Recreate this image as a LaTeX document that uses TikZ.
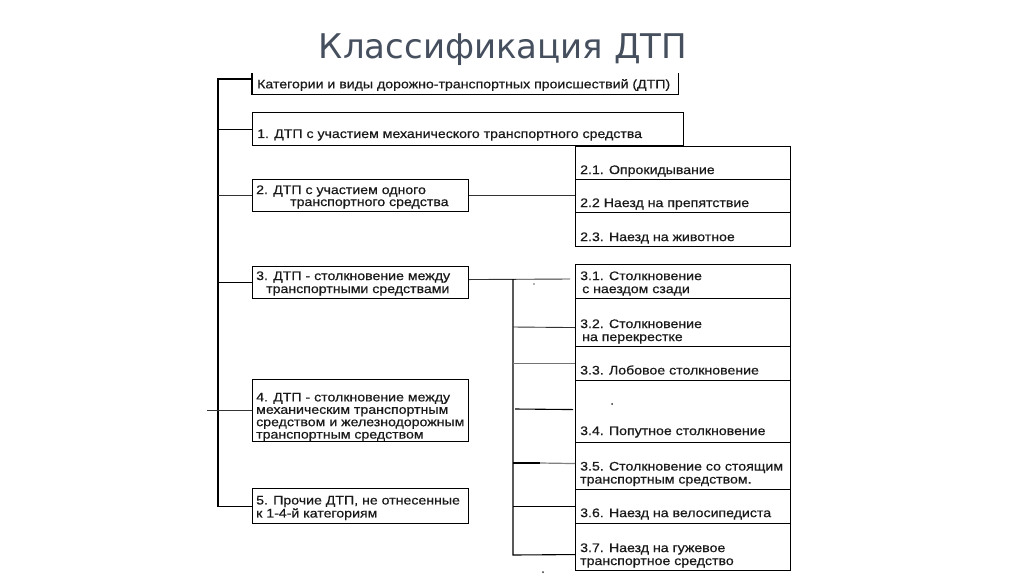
\documentclass[tikz,border=0pt]{standalone}
\usepackage{fontspec}
\setmainfont{Liberation Sans}[FakeStretch=1.14, FakeBold=0.5]
\newfontfamily\titlefont{DejaVu Sans}
\definecolor{titlecol}{HTML}{454F5E}
\definecolor{txtcol}{HTML}{1A1A1A}
\begin{document}
\begin{tikzpicture}[x=1pt,y=-1pt,
  boxst/.style={draw=black, line width=1.1pt, inner sep=0pt, anchor=north west},
  lbl/.style={anchor=west, inner sep=0pt, align=left, text=txtcol,
     font=\fontsize{12.4}{13}\selectfont},
  link/.style={line width=0.9pt, draw=black!80},
  spine/.style={line width=1.1pt, draw=black}]
\useasboundingbox (0,0) rectangle (1024,576);
\fill[white] (0,0) rectangle (1024,576);
% title
\node[anchor=base, inner sep=0pt, text=titlecol, font=\titlefont\fontsize{34}{38}\selectfont] (title) at (503,58) {Классификация ДТП};
% header
\node[inner sep=0pt, anchor=north west, minimum width=426pt, minimum height=21pt] (hdr) at (252,73) {};
\draw[spine] (hdr.north west) -- (hdr.south west) -- (hdr.south east) -- (hdr.north east);
\node[lbl] (hdrt) at (257,85) {Категории и виды дорожно-транспортных происшествий (ДТП)};
% left boxes
\node[boxst, minimum width=431pt, minimum height=33pt] (b1) at (252,112) {};
\node[boxst, minimum width=216pt, minimum height=32pt] (b2) at (252,179) {};
\node[boxst, minimum width=216pt, minimum height=32pt] (b3) at (252,266) {};
\node[boxst, minimum width=216pt, minimum height=62pt] (b4) at (252,379) {};
\node[boxst, minimum width=216pt, minimum height=35pt] (b5) at (252,488) {};
\node[lbl] (b1t) at (257,135) {1. ДТП с участием механического транспортного средства};
\node[lbl] (b2t) at (256,191) {2. ДТП с участием одного};
\node[lbl] (b2u) at (290,204) {транспортного средства};
\node[lbl] (b3t) at (256,283.5) {3. ДТП - столкновение между\\\hspace*{10pt}транспортными средствами};
\node[lbl, font=\fontsize{12.4}{12.4}\selectfont] (b4t) at (256,417) {4. ДТП - столкновение между\\механическим транспортным\\средством и железнодорожным\\транспортным средством};
\node[lbl] (b5t) at (256,508) {5. Прочие ДТП, не отнесенные\\к 1-4-й категориям};
% group 2
\node[boxst, minimum width=215pt, minimum height=33pt] (g21) at (575,146) {};
\node[boxst, minimum width=215pt, minimum height=33pt] (g22) at (575,179) {};
\node[boxst, minimum width=215pt, minimum height=34pt] (g23) at (575,212) {};
\node[lbl] (g21t) at (580,171) {2.1. Опрокидывание};
\node[lbl] (g22t) at (580,204) {2.2 Наезд на препятствие};
\node[lbl] (g23t) at (580,238) {2.3. Наезд на животное};
% group 3
\node[boxst, minimum width=215pt, minimum height=34pt] (c31) at (575,264) {};
\node[boxst, minimum width=215pt, minimum height=48pt] (c32) at (575,298) {};
\node[boxst, minimum width=215pt, minimum height=34pt] (c33) at (575,346) {};
\node[boxst, minimum width=215pt, minimum height=62pt] (c34) at (575,380) {};
\node[boxst, minimum width=215pt, minimum height=47pt] (c35) at (575,442) {};
\node[boxst, minimum width=215pt, minimum height=34pt] (c36) at (575,489) {};
\node[boxst, minimum width=215pt, minimum height=47pt] (c37) at (575,523) {};
\node[lbl] (c31t) at (580,283.5) {3.1. Столкновение\\\hspace*{2pt}с наездом сзади};
\node[lbl] (c32t) at (580,331.5) {3.2. Столкновение\\\hspace*{2pt}на перекрестке};
\node[lbl] (c33t) at (580,370) {3.3. Лобовое столкновение};
\node[lbl] (c34t) at (580,432) {3.4. Попутное столкновение};
\node[lbl] (c35t) at (580,474) {3.5. Столкновение со стоящим\\транспортным средством.};
\node[lbl] (c36t) at (580,514) {3.6. Наезд на велосипедиста};
\node[lbl] (c37t) at (580,555.5) {3.7. Наезд на гужевое\\транспортное средство};
% spine
\coordinate (top) at (218,79);
\draw[spine] (hdr.north west |- top) -- (top) |- (b5.west);
\draw[spine] (top |- b1.west) -- (b1.west);
\draw[link] (top |- b2.west) -- (b2.west);
\draw[spine] (top |- b3.west) -- (b3.west);
\draw[link] ([xshift=-11pt]top |- b4.west) -- (b4.west);
% group 2 link
\draw[link] (b2.east) -- (g22.west |- b2.east);
% bus for group 3
\coordinate (bus) at (513,279);
\coordinate (c31e) at (570,279);
\draw[link] ([yshift=3pt]b3.east) -- (c31e);
\draw[spine] (bus) -- (bus |- 0,555) -- ([yshift=-7.5pt]c37.west);
\draw[link] (bus |- 0,327) -- ([yshift=-5pt]c32.west);
\draw[line width=1.5pt, draw=black!55] (bus |- c33.west) -- (c33.west);
\draw[spine] ([xshift=2pt]bus |- 0,409) -- ([xshift=-2pt,yshift=2pt]c34.west);
\draw[spine] (bus |- 0,463) -- (540,463);
\draw[line width=1.2pt, draw=black!50] (540,463) -- ([yshift=2.5pt]c35.west);
\draw[spine] (bus |- c36.west) -- (c36.west);
% small marks
\fill[black!60] (534,284) circle (0.8);
\fill[black!80] (612,404) circle (1);
\fill[black!80] (543,572) circle (1);
\end{tikzpicture}
\end{document}
